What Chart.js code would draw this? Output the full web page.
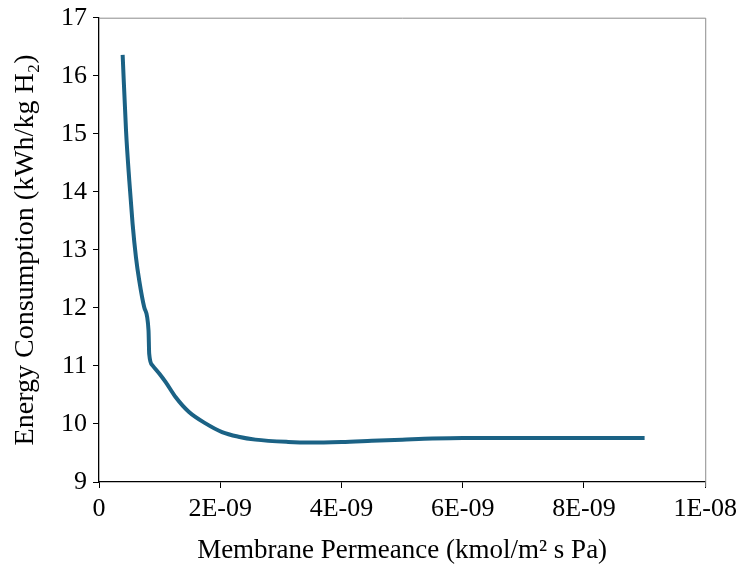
<!DOCTYPE html>
<html>
<head>
<meta charset="utf-8">
<script src="https://cdn.jsdelivr.net/npm/chart.js@4/dist/chart.umd.min.js"></script>
<style>
    html, body { margin: 0; padding: 0; background: #fff; }
    #wrap { width: 743px; height: 571px; }
</style>
</head>
<body>
<div id="wrap"><canvas id="energyChart" width="743" height="571"></canvas></div>
<script>
// Membrane permeance (kmol/m2 s Pa)
const permeance = [3.9e-10, 4.46e-10, 5.0e-10, 5.54e-10, 6.1e-10, 6.64e-10, 7.46e-10, 8.17e-10, 8.28e-10, 8.82e-10,
    1.0e-9, 1.10e-9, 1.266e-9, 1.48e-9, 1.757e-9, 2.03e-9, 2.30e-9, 2.58e-9, 3.12e-9, 3.5e-9,
    4.0e-9, 4.5e-9, 5.0e-9, 5.5e-9, 6.0e-9, 7.0e-9, 8.0e-9, 9.0e-9];
// Energy consumption (kWh/kg H2)
const energy = [16.36, 15.05, 14.19, 13.45, 12.87, 12.47, 12.01, 11.61, 11.21, 11.01,
    10.86, 10.72, 10.46, 10.21, 10.01, 9.86, 9.78, 9.73, 9.69, 9.68,
    9.69, 9.71, 9.73, 9.75, 9.76, 9.76, 9.76, 9.76];

const fontFamily = "'Liberation Serif', 'Times New Roman', serif";

// gray frame on the top and right edges of the plot
const frame = {
    id: 'frame',
    beforeDatasetsDraw(chart) {
        const a = chart.chartArea;
        const ctx = chart.ctx;
        ctx.save();
        ctx.strokeStyle = '#8c8c8c';
        ctx.lineWidth = 1;
        ctx.beginPath();
        ctx.moveTo(a.left, a.top + 0.5);
        ctx.lineTo(a.right + 0.5, a.top + 0.5);
        ctx.lineTo(a.right + 0.5, a.bottom + 5);
        ctx.stroke();
        ctx.restore();
    }
};

const ctx = document.getElementById('energyChart').getContext('2d');
new Chart(ctx, {
    type: 'line',
    data: {
        datasets: [{
            data: permeance.map((p, i) => ({ x: p, y: energy[i] })),
            borderColor: '#1b6285',
            borderWidth: 4,
            pointRadius: 0,
            fill: false,
            cubicInterpolationMode: 'monotone'
        }]
    },
    options: {
        responsive: false,
        animation: false,
        layout: { padding: { top: 13, right: 31 } },
        plugins: {
            legend: { display: false },
            tooltip: { enabled: false }
        },
        scales: {
            x: {
                type: 'linear',
                min: 0,
                max: 1e-8,
                afterFit: scale => { scale.height = 89; },
                ticks: {
                    stepSize: 2e-9,
                    color: '#000',
                    padding: 6,
                    maxRotation: 0,
                    font: { family: fontFamily, size: 26, lineHeight: 1.2 },
                    callback: v => {
                        if (Math.abs(v) < 1e-15) return '0';
                        const [m, e] = v.toExponential(0).split('e');
                        const n = Math.abs(parseInt(e, 10));
                        return m + 'E' + (e[0] === '-' ? '-' : '+') + String(n).padStart(2, '0');
                    }
                },
                grid: {
                    drawOnChartArea: false,
                    drawTicks: true,
                    tickLength: 6,
                    tickColor: '#000'
                },
                border: { color: '#000', width: 1.3 },
                title: {
                    display: true,
                    text: 'Membrane Permeance (kmol/m\u00b2 s Pa)',
                    color: '#000',
                    font: { family: fontFamily, size: 27 },
                    padding: { top: 3 }
                }
            },
            y: {
                min: 9,
                max: 17,
                afterFit: scale => { scale.width = 99; },
                ticks: {
                    stepSize: 1,
                    color: '#000',
                    padding: 6,
                    font: { family: fontFamily, size: 26, lineHeight: 0.9 }
                },
                grid: {
                    drawOnChartArea: false,
                    drawTicks: true,
                    tickLength: 6,
                    tickColor: '#000'
                },
                border: { color: '#000', width: 1.3 },
                title: {
                    display: true,
                    text: 'Energy Consumption (kWh/kg H\u2082)',
                    color: '#000',
                    font: { family: fontFamily, size: 28 },
                    padding: { top: 9, bottom: 0 }
                }
            }
        }
    },
    plugins: [frame]
});
</script>
</body>
</html>
